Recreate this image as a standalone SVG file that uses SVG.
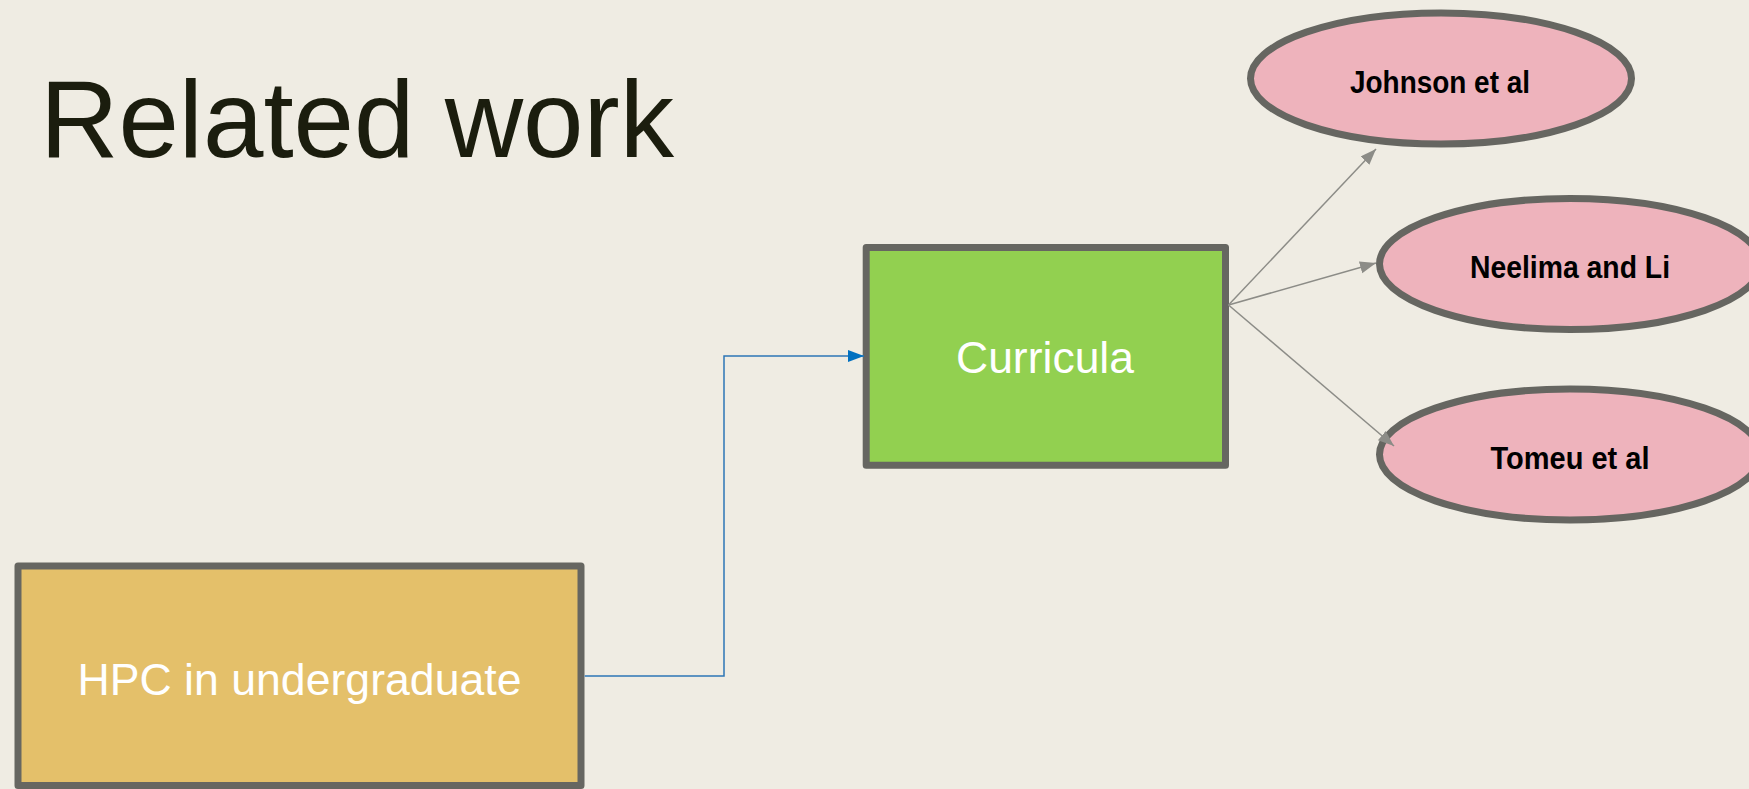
<svg xmlns="http://www.w3.org/2000/svg" width="1749" height="789" viewBox="0 0 1749 789">
  <style>
    .box { stroke: #666661; stroke-width: 7; stroke-linejoin: round; }
    .oval { fill: #EEB3BC; stroke: #666661; stroke-width: 7; }
    .boxText { font-family: "Liberation Sans", Arial, sans-serif; font-size: 44px; fill: #FFFFFF; text-anchor: middle; }
    .ovalText { font-family: "Liberation Sans", Arial, sans-serif; font-size: 32px; font-weight: bold; fill: #000000; text-anchor: middle; }
    .title { font-family: "Liberation Sans", Arial, sans-serif; font-size: 109px; fill: #1B1D0E; }
    .link { fill: none; stroke: #8C8C87; stroke-width: 1.5; }
    .flow { fill: none; stroke: #2E75B6; stroke-width: 1.5; }
  </style>
  <defs>
    <marker id="greyHead" markerUnits="userSpaceOnUse" markerWidth="18" markerHeight="14" refX="16" refY="6" orient="auto">
      <path d="M0,0 L16,6 L0,12 Z" fill="#8C8C87"/>
    </marker>
    <marker id="blueHead" markerUnits="userSpaceOnUse" markerWidth="18" markerHeight="14" refX="16" refY="6" orient="auto">
      <path d="M0,0 L16,6 L0,12 Z" fill="#0070C0"/>
    </marker>
  </defs>

  <!-- slide background -->
  <rect x="0" y="0" width="1749" height="789" fill="#EFECE3"/>

  <text class="title" x="40" y="157" textLength="634" lengthAdjust="spacingAndGlyphs">Related work</text>

  <g id="hpc">
    <rect class="box" x="18" y="566" width="563" height="219.5" fill="#E4C06A"/>
    <text class="boxText" x="299.5" y="695" textLength="444" lengthAdjust="spacingAndGlyphs">HPC in undergraduate</text>
  </g>

  <g id="curricula">
    <rect class="box" x="866.2" y="247.5" width="359.3" height="217.7" fill="#92D050"/>
    <text class="boxText" x="1045" y="372.7" textLength="178" lengthAdjust="spacingAndGlyphs">Curricula</text>
  </g>

  <g id="johnson">
    <ellipse class="oval" cx="1441" cy="78.5" rx="190.5" ry="65.5"/>
    <text class="ovalText" x="1440" y="92.7" textLength="180" lengthAdjust="spacingAndGlyphs">Johnson et al</text>
  </g>

  <g id="neelima">
    <ellipse class="oval" cx="1570" cy="264" rx="190.5" ry="65.5"/>
    <text class="ovalText" x="1570" y="278" textLength="200" lengthAdjust="spacingAndGlyphs">Neelima and Li</text>
  </g>

  <g id="tomeu">
    <ellipse class="oval" cx="1570" cy="454.5" rx="190.5" ry="65.5"/>
    <text class="ovalText" x="1570" y="469" textLength="159" lengthAdjust="spacingAndGlyphs">Tomeu et al</text>
  </g>

  <!-- connectors, drawn above the shapes so the heads stay visible -->
  <g id="connectors">
    <path class="flow" d="M584.7,676 H724 V356 H864" marker-end="url(#blueHead)"/>
    <line class="link" x1="1228.5" y1="305" x2="1376" y2="149" marker-end="url(#greyHead)"/>
    <line class="link" x1="1228.5" y1="305" x2="1376" y2="263" marker-end="url(#greyHead)"/>
    <line class="link" x1="1228.5" y1="305" x2="1394" y2="446" marker-end="url(#greyHead)"/>
  </g>
</svg>
